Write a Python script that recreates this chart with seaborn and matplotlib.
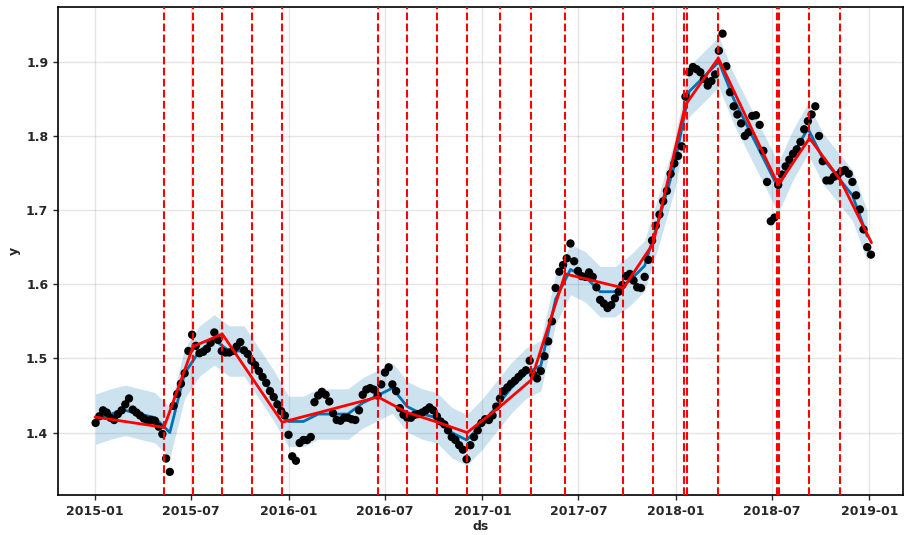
import numpy as np
import pandas as pd
import matplotlib
matplotlib.use("Agg")
import matplotlib.pyplot as plt
import matplotlib.dates as mdates
import seaborn as sns

# Weekly observations (y), starting 2015-01-02
y_obs = [
    1.413, 1.422, 1.430, 1.427, 1.420, 1.417, 1.425, 1.430, 1.438, 1.446,
    1.431, 1.427, 1.423, 1.419, 1.416, 1.417, 1.416, 1.408, 1.398, 1.365,
    1.347, 1.436, 1.452, 1.466, 1.480, 1.510, 1.532, 1.517, 1.507, 1.509,
    1.513, 1.521, 1.535, 1.525, 1.510, 1.508, 1.508, 1.510, 1.516, 1.522,
    1.511, 1.506, 1.497, 1.491, 1.483, 1.475, 1.467, 1.456, 1.448, 1.438,
    1.429, 1.423, 1.397, 1.368, 1.362, 1.386, 1.390, 1.390, 1.394, 1.441,
    1.450, 1.455, 1.451, 1.442, 1.426, 1.417, 1.416, 1.420, 1.420, 1.418,
    1.417, 1.430, 1.451, 1.458, 1.460, 1.458, 1.450, 1.465, 1.481, 1.488,
    1.465, 1.456, 1.433, 1.424, 1.420, 1.420, 1.424, 1.425, 1.427, 1.430,
    1.434, 1.430, 1.422, 1.415, 1.411, 1.403, 1.394, 1.390, 1.383, 1.377,
    1.364, 1.383, 1.394, 1.403, 1.413, 1.418, 1.417, 1.423, 1.435, 1.446,
    1.456, 1.461, 1.466, 1.470, 1.475, 1.480, 1.484, 1.497, 1.478, 1.473,
    1.483, 1.503, 1.523, 1.550, 1.595, 1.617, 1.626, 1.635, 1.655, 1.631,
    1.618, 1.611, 1.610, 1.616, 1.610, 1.596, 1.579, 1.574, 1.568, 1.572,
    1.581, 1.590, 1.599, 1.611, 1.614, 1.605, 1.596, 1.595, 1.610, 1.633,
    1.659, 1.679, 1.694, 1.712, 1.726, 1.749, 1.763, 1.773, 1.786, 1.853,
    1.886, 1.893, 1.890, 1.886, 1.877, 1.868, 1.874, 1.883, 1.915, 1.938,
    1.894, 1.859, 1.840, 1.829, 1.817, 1.800, 1.805, 1.827, 1.828, 1.815,
    1.780, 1.738, 1.685, 1.690, 1.734, 1.748, 1.759, 1.768, 1.776, 1.782,
    1.792, 1.809, 1.820, 1.829, 1.840, 1.800, 1.766, 1.740, 1.740, 1.745,
    1.747, 1.752, 1.754, 1.749, 1.738, 1.720, 1.701, 1.674, 1.650, 1.640,
]

# Fitted values (yhat), every four weeks from 2015-01-02
yhat = [
    1.418, 1.425, 1.430, 1.425, 1.420, 1.400, 1.480, 1.510, 1.525, 1.510,
    1.510, 1.480, 1.450, 1.415, 1.415, 1.425, 1.425, 1.425, 1.440, 1.450,
    1.460, 1.435, 1.425, 1.420, 1.400, 1.390, 1.410, 1.435, 1.460, 1.480,
    1.490, 1.580, 1.620, 1.610, 1.590, 1.590, 1.605, 1.625, 1.690, 1.760,
    1.860, 1.880, 1.900, 1.850, 1.810, 1.770, 1.730, 1.775, 1.810, 1.770,
    1.745, 1.720, 1.665,
]
interval_half_width = 0.034

# Piecewise-linear trend at its knots
trend_dates = [
    "2015-01-01", "2015-05-11", "2015-07-05", "2015-08-29", "2015-10-24",
    "2015-12-20", "2016-06-18", "2016-08-12", "2016-10-08", "2016-12-03",
    "2017-02-03", "2017-04-03", "2017-06-06", "2017-09-24", "2017-11-19",
    "2018-01-19", "2018-03-22", "2018-07-13", "2018-09-10", "2018-11-07",
    "2019-01-05",
]
trend_vals = [
    1.421, 1.407, 1.516, 1.533, 1.474,
    1.414, 1.448, 1.427, 1.414, 1.400,
    1.435, 1.471, 1.614, 1.595, 1.655,
    1.842, 1.905, 1.734, 1.797, 1.741,
    1.656,
]

# Significant changepoints
changepoints = [
    "2015-05-11", "2015-07-05", "2015-08-29", "2015-10-24", "2015-12-20",
    "2016-06-18", "2016-08-12", "2016-10-08", "2016-12-03", "2017-02-03",
    "2017-04-03", "2017-06-06", "2017-09-24", "2017-11-19", "2018-01-17",
    "2018-01-21", "2018-03-22", "2018-07-11", "2018-07-15", "2018-09-10",
    "2018-11-07",
]

obs = pd.DataFrame({
    "ds": pd.date_range("2015-01-02", periods=len(y_obs), freq="7D"),
    "y": y_obs,
})
fit = pd.DataFrame({
    "ds": pd.date_range("2015-01-02", periods=len(yhat), freq="28D"),
    "yhat": yhat,
})
fit["lower"] = fit["yhat"] - interval_half_width
fit["upper"] = fit["yhat"] + interval_half_width
trend = pd.DataFrame({"ds": pd.to_datetime(trend_dates), "trend": trend_vals})

sns.set_theme(style="white")
plt.rcParams["font.family"] = ["DejaVu Sans"]

fig = plt.figure(figsize=(9.06, 5.35), dpi=100)
ax = fig.add_axes([0.064, 0.075, 0.933, 0.912])

ax.fill_between(fit["ds"], fit["lower"], fit["upper"], color="#0072B2", alpha=0.2, lw=0)
sns.lineplot(data=fit, x="ds", y="yhat", ax=ax, color="#0072B2", lw=2, zorder=3)
sns.scatterplot(data=obs, x="ds", y="y", ax=ax, color="black", s=36, edgecolor="none", zorder=4)
sns.lineplot(data=trend, x="ds", y="trend", ax=ax, color="red", lw=2, zorder=5)
for cp in changepoints:
    ax.axvline(pd.Timestamp(cp), color="red", ls="--", lw=1.5, zorder=6)

ax.set_xlim(pd.Timestamp("2014-10-23"), pd.Timestamp("2019-03-06"))
ax.set_ylim(1.316, 1.974)
ax.xaxis.set_major_locator(mdates.MonthLocator(bymonth=[1, 7]))
ax.xaxis.set_major_formatter(mdates.DateFormatter("%Y-%m"))
ax.set_yticks([1.4, 1.5, 1.6, 1.7, 1.8, 1.9])
ax.grid(True, which="major", color="gray", ls="-", lw=1, alpha=0.2)
ax.tick_params(axis="both", labelsize=9, length=3.5, width=1, direction="out",
               bottom=True, left=True)
for lab in ax.get_xticklabels() + ax.get_yticklabels():
    lab.set_fontweight("bold")
ax.set_xlabel("ds", fontsize=9, fontweight="bold", labelpad=2)
ax.set_ylabel("y", fontsize=9, fontweight="bold")
for s in ax.spines.values():
    s.set_color("black")
    s.set_linewidth(1.2)

fig.savefig("out.png", dpi=100)
